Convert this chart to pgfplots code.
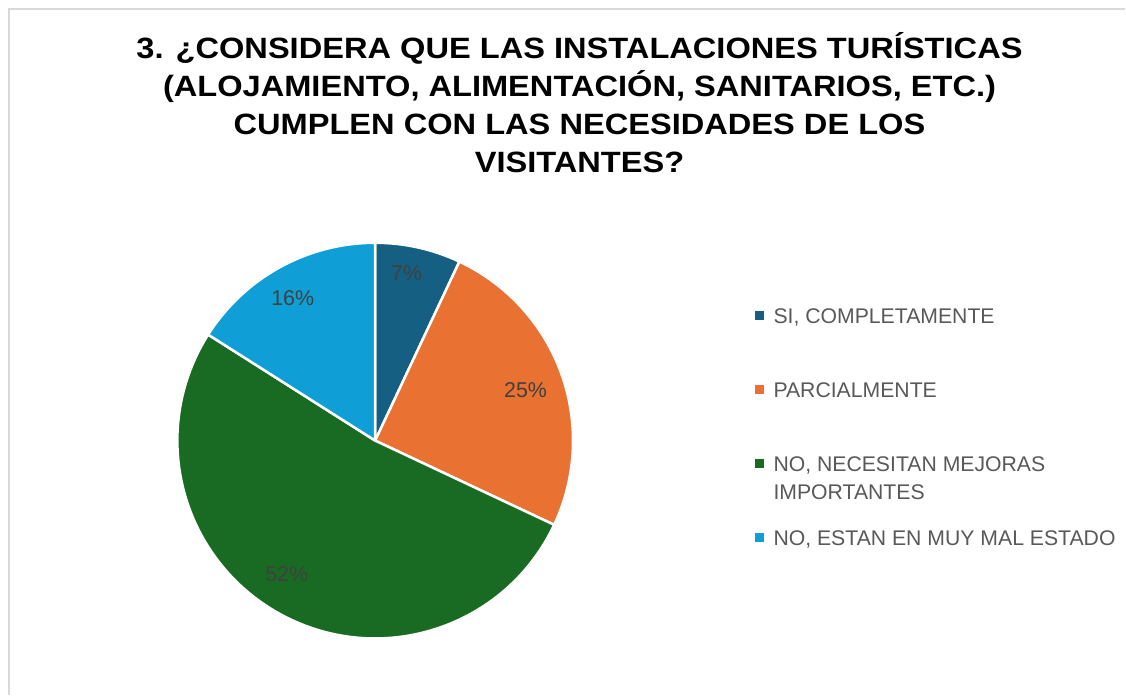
\documentclass[border=0pt]{standalone}
\usepackage{pgfplots}
\pgfplotsset{compat=1.18}
\usepackage{pgfplotstable}
\usepackage{fontspec}
\setmainfont{Liberation Sans}
\definecolor{c1}{HTML}{156082}
\definecolor{c2}{HTML}{E97132}
\definecolor{c3}{HTML}{196B24}
\definecolor{c4}{HTML}{0F9ED5}
\definecolor{lbl}{HTML}{404040}
\definecolor{leg}{HTML}{595959}
\definecolor{frame}{HTML}{D9D9D9}
% value = percentage; lx, ly = position of the data label
\pgfplotstableread{
value lx ly
7 407 423
25 526 306
52 287 121
16 293 398
}\piedata
\begin{document}
\begin{tikzpicture}
\pgfplotstablegetelem{0}{value}\of\piedata \edef\vA{\pgfplotsretval}
\pgfplotstablegetelem{1}{value}\of\piedata \edef\vB{\pgfplotsretval}
\pgfplotstablegetelem{2}{value}\of\piedata \edef\vC{\pgfplotsretval}
\pgfplotstablegetelem{3}{value}\of\piedata \edef\vD{\pgfplotsretval}
\pgfplotstablegetelem{0}{lx}\of\piedata \edef\xA{\pgfplotsretval}
\pgfplotstablegetelem{1}{lx}\of\piedata \edef\xB{\pgfplotsretval}
\pgfplotstablegetelem{2}{lx}\of\piedata \edef\xC{\pgfplotsretval}
\pgfplotstablegetelem{3}{lx}\of\piedata \edef\xD{\pgfplotsretval}
\pgfplotstablegetelem{0}{ly}\of\piedata \edef\yA{\pgfplotsretval}
\pgfplotstablegetelem{1}{ly}\of\piedata \edef\yB{\pgfplotsretval}
\pgfplotstablegetelem{2}{ly}\of\piedata \edef\yC{\pgfplotsretval}
\pgfplotstablegetelem{3}{ly}\of\piedata \edef\yD{\pgfplotsretval}
\pgfmathsetmacro\aA{90}
\pgfmathsetmacro\aB{\aA-3.6*\vA}
\pgfmathsetmacro\aC{\aB-3.6*\vB}
\pgfmathsetmacro\aD{\aC-3.6*\vC}
\pgfmathsetmacro\aE{\aD-3.6*\vD}
\def\R{198bp}
\begin{axis}[x=1bp,y=1bp,xmin=0,xmax=1126,ymin=0,ymax=696,hide axis,clip=false]
\fill[white] (axis cs:0,0) rectangle (axis cs:1126,696);
\draw[frame, line width=2bp] (axis cs:9.5,0) -- (axis cs:9.5,686.5) -- (axis cs:1126,686.5);
% title
\node[anchor=base, inner sep=0pt, xscale=1.11, font=\fontsize{29.5}{36}\selectfont\bfseries] at (axis cs:580,637.5) {3. ¿CONSIDERA QUE LAS INSTALACIONES TURÍSTICAS};
\node[anchor=base, inner sep=0pt, xscale=1.11, font=\fontsize{29.5}{36}\selectfont\bfseries] at (axis cs:580,599.5) {(ALOJAMIENTO, ALIMENTACIÓN, SANITARIOS, ETC.)};
\node[anchor=base, inner sep=0pt, xscale=1.11, font=\fontsize{29.5}{36}\selectfont\bfseries] at (axis cs:580,561.5) {CUMPLEN CON LAS NECESIDADES DE LOS};
\node[anchor=base, inner sep=0pt, xscale=1.11, font=\fontsize{29.5}{36}\selectfont\bfseries] at (axis cs:580,523.5) {VISITANTES?};
% pie slices
\filldraw[fill=c1, draw=white, line width=2.5bp, line join=round] (axis cs:375.5,255) -- ++(\aA:\R) arc[start angle=\aA, end angle=\aB, radius=\R] -- cycle;
\filldraw[fill=c2, draw=white, line width=2.5bp, line join=round] (axis cs:375.5,255) -- ++(\aB:\R) arc[start angle=\aB, end angle=\aC, radius=\R] -- cycle;
\filldraw[fill=c3, draw=white, line width=2.5bp, line join=round] (axis cs:375.5,255) -- ++(\aC:\R) arc[start angle=\aC, end angle=\aD, radius=\R] -- cycle;
\filldraw[fill=c4, draw=white, line width=2.5bp, line join=round] (axis cs:375.5,255) -- ++(\aD:\R) arc[start angle=\aD, end angle=\aE, radius=\R] -- cycle;
% data labels
\node[text=lbl, font=\fontsize{21.5}{25}\selectfont] at (axis cs:\xA,\yA) {\vA\%};
\node[text=lbl, font=\fontsize{21.5}{25}\selectfont] at (axis cs:\xB,\yB) {\vB\%};
\node[text=lbl, font=\fontsize{21.5}{25}\selectfont] at (axis cs:\xC,\yC) {\vC\%};
\node[text=lbl, font=\fontsize{21.5}{25}\selectfont] at (axis cs:\xD,\yD) {\vD\%};
% legend
\fill[c1] (axis cs:755.5,375.5) rectangle (axis cs:764.5,384.5);
\fill[c2] (axis cs:755.5,301.5) rectangle (axis cs:764.5,310.5);
\fill[c3] (axis cs:755.5,227.5) rectangle (axis cs:764.5,236.5);
\fill[c4] (axis cs:755.5,153.5) rectangle (axis cs:764.5,162.5);
\node[anchor=base west, inner sep=0pt, text=leg, font=\fontsize{21.3}{25}\selectfont] at (axis cs:774,372.5) {SI, COMPLETAMENTE};
\node[anchor=base west, inner sep=0pt, text=leg, font=\fontsize{21.3}{25}\selectfont] at (axis cs:774,298.5) {PARCIALMENTE};
\node[anchor=base west, inner sep=0pt, text=leg, font=\fontsize{21.3}{25}\selectfont] at (axis cs:774,224.5) {NO, NECESITAN MEJORAS};
\node[anchor=base west, inner sep=0pt, text=leg, font=\fontsize{21.3}{25}\selectfont] at (axis cs:774,196.5) {IMPORTANTES};
\node[anchor=base west, inner sep=0pt, text=leg, font=\fontsize{21.3}{25}\selectfont] at (axis cs:774,150.5) {NO, ESTAN EN MUY MAL ESTADO};
\end{axis}
\end{tikzpicture}
\end{document}
